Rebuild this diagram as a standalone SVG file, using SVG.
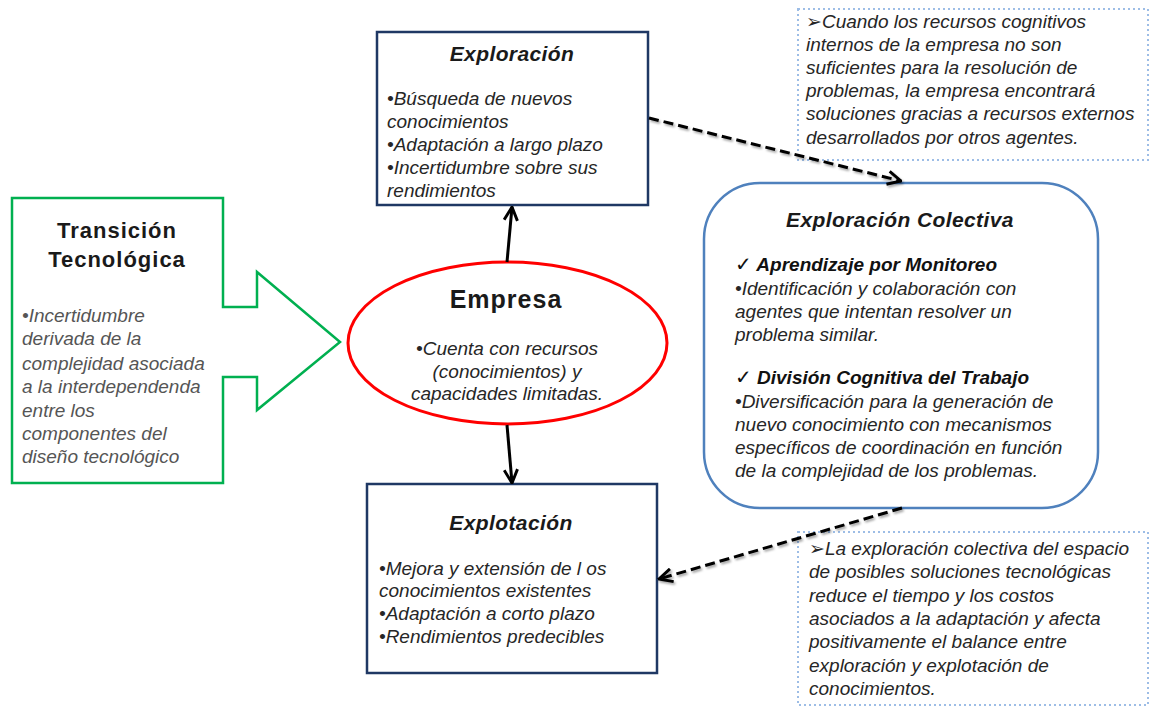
<svg xmlns="http://www.w3.org/2000/svg" width="1151" height="707" viewBox="0 0 1151 707">
  <style>
    text { font-family: "Liberation Sans", Arial, sans-serif; fill: #1a1a1a; }
    .title { font-size: 21px; font-weight: bold; font-style: italic; text-anchor: middle; letter-spacing: 0.4px; }
    .body { font-size: 19px; font-style: italic; fill: #262626; }
    .gray { font-size: 19px; font-style: italic; fill: #555555; }
    .bi { font-size: 19px; font-weight: bold; font-style: italic; fill: #111111; }
    .sym { font-family: "DejaVu Sans", sans-serif; font-style: normal; font-weight: normal; }
    .box { fill: #ffffff; stroke: #1f3864; stroke-width: 2.5; }
    .note { fill: none; stroke: #9dbde6; stroke-width: 2; stroke-dasharray: 2 3; }
    .solid { stroke: #000000; stroke-width: 3; fill: none; }
    .dashed { stroke: #000000; stroke-width: 3; fill: none; stroke-dasharray: 10 5; filter: url(#shadow); }
  </style>
  <defs>
    <marker id="head" viewBox="0 0 12 12" refX="11" refY="6" markerWidth="16" markerHeight="16" markerUnits="userSpaceOnUse" orient="auto">
      <path d="M1,1 L11,6 L1,11" fill="none" stroke="#000000" stroke-width="2.2"/>
    </marker>
    <filter id="shadow" x="-10%" y="-50%" width="120%" height="200%">
      <feDropShadow dx="1.5" dy="2" stdDeviation="1" flood-color="#000000" flood-opacity="0.35"/>
    </filter>
  </defs>

  <rect width="1151" height="707" fill="#ffffff"/>

  <!-- Transición Tecnológica: block arrow pointing at the firm -->
  <g id="transicion">
    <polygon points="12,198 223,198 223,307 257,307 257,272 340,342 257,410 257,377 223,377 223,483 12,483" fill="#ffffff" stroke="#00b050" stroke-width="2.5"/>
    <text x="117" y="238" text-anchor="middle" font-size="22" font-weight="bold" letter-spacing="1">Transición</text>
    <text x="117" y="267" text-anchor="middle" font-size="22" font-weight="bold" letter-spacing="1">Tecnológica</text>
    <text class="gray" x="22" y="322">•Incertidumbre</text>
    <text class="gray" x="22" y="345">derivada de la</text>
    <text class="gray" x="22" y="370">complejidad asociada</text>
    <text class="gray" x="22" y="393">a la interdependenda</text>
    <text class="gray" x="22" y="417">entre los</text>
    <text class="gray" x="22" y="440">componentes del</text>
    <text class="gray" x="22" y="463">diseño tecnológico</text>
  </g>

  <!-- Exploración -->
  <g id="exploracion">
    <rect class="box" x="377" y="32" width="271" height="173"/>
    <text class="title" x="512" y="61">Exploración</text>
    <text class="body" x="387" y="105">•Búsqueda de nuevos</text>
    <text class="body" x="387" y="128">conocimientos</text>
    <text class="body" x="387" y="151">•Adaptación a largo plazo</text>
    <text class="body" x="387" y="174">•Incertidumbre sobre sus</text>
    <text class="body" x="387" y="197">rendimientos</text>
  </g>

  <!-- Empresa -->
  <g id="empresa">
    <ellipse cx="507.5" cy="343" rx="159.5" ry="81" fill="#ffffff" stroke="#ff0000" stroke-width="3"/>
    <text x="506" y="308" text-anchor="middle" font-size="25" font-weight="bold" letter-spacing="1">Empresa</text>
    <text class="body" x="507" y="355" text-anchor="middle">•Cuenta con recursos</text>
    <text class="body" x="507" y="378" text-anchor="middle">(conocimientos) y</text>
    <text class="body" x="507" y="400" text-anchor="middle">capacidades limitadas.</text>
  </g>

  <!-- Explotación -->
  <g id="explotacion">
    <rect class="box" x="367" y="484" width="290" height="189"/>
    <text class="title" x="511" y="530">Explotación</text>
    <text class="body" x="379" y="575">•Mejora y extensión de l os</text>
    <text class="body" x="379" y="597">conocimientos existentes</text>
    <text class="body" x="379" y="620">•Adaptación a corto plazo</text>
    <text class="body" x="379" y="643">•Rendimientos predecibles</text>
  </g>

  <!-- Exploración Colectiva -->
  <g id="exploracion-colectiva">
    <rect x="704" y="183" width="394" height="325" rx="56" ry="56" fill="#ffffff" stroke="#4f81bd" stroke-width="2.5"/>
    <text class="title" x="900" y="227">Exploración Colectiva</text>
    <text class="bi" x="735" y="271"><tspan class="sym" font-size="20">✓</tspan> Aprendizaje por Monitoreo</text>
    <text class="body" x="735" y="295">•Identificación y colaboración con</text>
    <text class="body" x="735" y="318">agentes que intentan resolver un</text>
    <text class="body" x="735" y="341">problema similar.</text>
    <text class="bi" x="735" y="384"><tspan class="sym" font-size="20">✓</tspan> División Cognitiva del Trabajo</text>
    <text class="body" x="735" y="408">•Diversificación para la generación de</text>
    <text class="body" x="735" y="431">nuevo conocimiento con mecanismos</text>
    <text class="body" x="735" y="454">específicos de coordinación en función</text>
    <text class="body" x="735" y="477">de la complejidad de los problemas.</text>
  </g>

  <!-- Note: external cognitive resources -->
  <g id="nota-recursos">
    <rect class="note" x="798" y="9" width="350" height="151"/>
    <text class="body" x="806" y="28"><tspan class="sym" font-size="19">➢</tspan>Cuando los recursos cognitivos</text>
    <text class="body" x="806" y="51">internos de la empresa no son</text>
    <text class="body" x="806" y="74">suficientes para la resolución de</text>
    <text class="body" x="806" y="97">problemas, la empresa encontrará</text>
    <text class="body" x="806" y="120">soluciones gracias a recursos externos</text>
    <text class="body" x="806" y="144">desarrollados por otros agentes.</text>
  </g>

  <!-- Note: effect of collective exploration -->
  <g id="nota-balance">
    <rect class="note" x="798" y="532" width="350" height="173"/>
    <text class="body" x="809" y="555"><tspan class="sym" font-size="19">➢</tspan>La exploración colectiva del espacio</text>
    <text class="body" x="809" y="578">de posibles soluciones tecnológicas</text>
    <text class="body" x="809" y="602">reduce el tiempo y los costos</text>
    <text class="body" x="809" y="625">asociados a la adaptación y afecta</text>
    <text class="body" x="809" y="648">positivamente el balance entre</text>
    <text class="body" x="809" y="672">exploración y explotación de</text>
    <text class="body" x="809" y="695">conocimientos.</text>
  </g>

  <!-- Connectors -->
  <g id="connectors">
    <line class="solid" x1="507" y1="262" x2="512" y2="207" marker-end="url(#head)"/>
    <line class="solid" x1="507" y1="425" x2="512" y2="483" marker-end="url(#head)"/>
    <line class="dashed" x1="649" y1="118" x2="901" y2="181" marker-end="url(#head)"/>
    <line class="dashed" x1="902" y1="508" x2="659" y2="579" marker-end="url(#head)"/>
  </g>
</svg>
